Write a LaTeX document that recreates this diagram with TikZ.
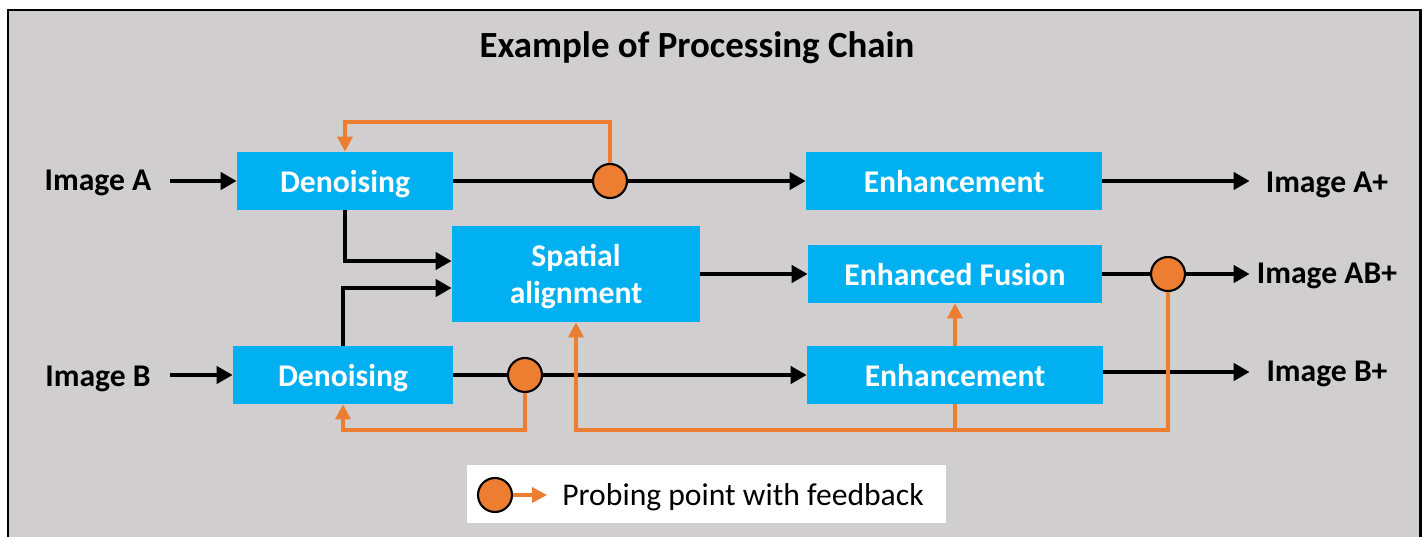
\documentclass[tikz,border=0pt]{standalone}
\usepackage{fontspec}
\setmainfont{Carlito}
\usetikzlibrary{arrows.meta}

\definecolor{chaingray}{HTML}{D0CECE}
\definecolor{chainblue}{HTML}{00B0F0}
\definecolor{chainorange}{HTML}{ED7D31}

\tikzset{
    block/.style={
        fill=chainblue,
        text=white,
        inner sep=0pt,
        align=center,
        text depth=0pt,
        font=\fontsize{18}{21}\selectfont\bfseries},
    iolabel/.style={
        inner sep=0pt,
        font=\fontsize{18}{21}\selectfont\bfseries},
    probe/.style={
        circle,
        draw=black,
        line width=1.2pt,
        fill=chainorange,
        inner sep=0pt,
        minimum size=0.68cm},
    wire/.style={
        line width=2.3pt},
    flow/.style={
        line width=2.3pt,
        -{Triangle[length=0.32cm, width=0.34cm]}},
    feedback/.style={
        draw=chainorange,
        line width=2pt,
        -{Triangle[length=0.3cm, width=0.3cm]}}
}

\begin{document}
\begin{tikzpicture}[x=0.02cm, y=-0.02cm]
    % page and frame
    \fill[white] (0,0) rectangle (1424,537);
    \clip (0,0) rectangle (1424,537);
    \draw[line width=1.7pt, fill=chaingray] (8,10) rectangle (1420,600);

    \node[font=\fontsize{21}{25}\selectfont\bfseries] (title) at (697,48) {Example of Processing Chain};

    % inputs and outputs
    \node[iolabel, minimum width=2.88cm] (imgA) at (98,183) {Image A};
    \node[iolabel, minimum width=2.88cm] (imgB) at (98,379) {Image B};
    \node[iolabel, minimum width=3.08cm] (outA) at (1327,185) {Image A+};
    \node[iolabel, minimum width=3.08cm] (outAB) at (1327,276) {Image AB+};
    \node[iolabel, minimum width=3.08cm] (outB) at (1327,374) {Image B+};

    % processing blocks
    \node[
        block,
        minimum width=4.32cm,
        minimum height=1.16cm]
        (denA) at (345,181) {Denoising};
    \node[
        block,
        minimum width=4.4cm,
        minimum height=1.16cm]
        (denB) at (343,375) {Denoising};
    \node[
        block,
        minimum width=4.96cm,
        minimum height=1.92cm]
        (spatial) at (576,274) {Spatial\\alignment};
    \node[
        block,
        minimum width=5.92cm,
        minimum height=1.16cm]
        (enhA) at (954,181) {Enhancement};
    \node[
        block,
        minimum width=5.88cm,
        minimum height=1.16cm]
        (fusion) at (955,274) {Enhanced Fusion};
    \node[
        block,
        minimum width=5.92cm,
        minimum height=1.16cm]
        (enhB) at (955,375) {Enhancement};

    % probing points
    \node[probe] (probeA) at (610,181) {};
    \node[probe] (probeB) at (525,375) {};
    \node[probe] (probeAB) at (1168,274) {};

    % main flow
    \draw[flow] (imgA.east |- denA.west) -- (denA);
    \draw[flow] (imgB.east |- denB.west) -- (denB);
    \draw[wire] (denA) -- (probeA);
    \draw[flow] (probeA) -- (enhA);
    \draw[wire] (denB) -- (probeB);
    \draw[flow] (probeB) -- (enhB);
    \draw[flow] (denA.south) |- ([yshift=0.26cm]spatial.west);
    \draw[flow] (denB.north) |- ([yshift=-0.28cm]spatial.west);
    \draw[flow] (spatial) -- (fusion);
    \draw[wire] (fusion) -- (probeAB);
    \draw[flow] (probeAB) -- (outAB.west |- probeAB.east);
    \draw[flow] (enhA.east) -- (outA.west |- enhA.east);
    \draw[flow] (enhB.east |- 0,372) -- (outB.west |- 0,372);

    % feedback
    \coordinate (fbA) at (345,122);
    \coordinate (fbB) at (343,430);
    \coordinate (fbAB) at (576,430);
    \draw[feedback] (probeA.north) |- (fbA) -- (denA.north);
    \draw[feedback] (probeB.south) |- (fbB) -- (denB.south);
    \draw[feedback] (probeAB.south) |- (fbAB) -- (spatial.south);
    \draw[feedback, -] (fbAB -| enhB.south) -- (enhB.south);
    \draw[feedback] (enhB.north) -- (fusion.south);

    % legend
    \node[
        fill=white,
        inner sep=0pt,
        minimum width=9.58cm,
        minimum height=1.16cm]
        (legend) at (706.5,494) {};
    \node[probe] (legprobe) at (495,495) {};
    \coordinate (legtip) at (547,495);
    \node[anchor=west, inner sep=0pt, font=\fontsize{18}{21}\selectfont] (legtxt) at (562,497) {Probing point with feedback};
    \draw[feedback] (legprobe) -- (legtip);
\end{tikzpicture}
\end{document}
